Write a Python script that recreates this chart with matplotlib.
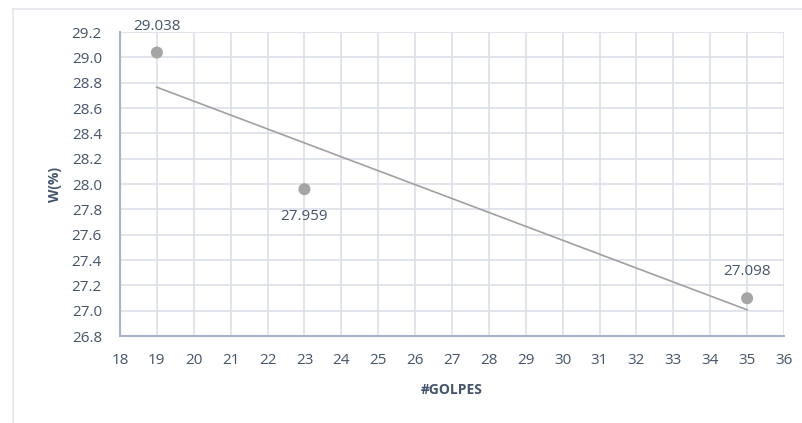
import matplotlib
matplotlib.use("Agg")
import matplotlib.pyplot as plt
import numpy as np

golpes = [19, 23, 35]
humedad = [29.038, 27.959, 27.098]
labels = ["29.038", "27.959", "27.098"]
label_offsets = [(0, 19), (0, -20), (0, 19)]

plt.rcParams['font.family'] = ['Open Sans', 'DejaVu Sans']
txt = '#44546A'
fig = plt.figure(figsize=(8.03, 4.23), dpi=100)
ax = fig.add_axes([120/803, 1-336/423, (784-120)/803, (336-32)/423])

ax.set_xlim(18, 36)
ax.set_ylim(26.8, 29.2)
ax.set_xticks(np.arange(18, 37, 1))
ax.set_yticks(np.arange(26.8, 29.21, 0.2))
ax.set_yticklabels([f"{v:.1f}" for v in np.arange(26.8, 29.21, 0.2)])
ax.grid(True, color='#DCE0E8', linewidth=1.2)
ax.set_axisbelow(True)
for s in ['top', 'right']:
    ax.spines[s].set_visible(False)
for s in ['left', 'bottom']:
    ax.spines[s].set_color('#A9B3C7')
    ax.spines[s].set_linewidth(1.5)
ax.tick_params(length=0, colors=txt, labelsize=11)
ax.tick_params(axis='y', pad=13)
ax.tick_params(axis='x', pad=12)

coef = np.polyfit(golpes, humedad, 1)
xs = np.array([min(golpes), max(golpes)])
ax.plot(xs, np.polyval(coef, xs), color='#A0A0A0', linewidth=1.2, zorder=2)
ax.scatter(golpes, humedad, s=75, color='#A5A5A5', zorder=3, edgecolors='none')
for x, y, l, off in zip(golpes, humedad, labels, label_offsets):
    ax.annotate(l, (x, y), xytext=off, textcoords='offset points', ha='center', va='center',
                color=txt, fontsize=11)

ax.set_xlabel('#GOLPES', fontweight='bold', color=txt, fontsize=10, labelpad=11)
ax.set_ylabel('W(%)', fontweight='bold', color=txt, fontsize=10, labelpad=7)

# chart frame lines
fig.add_artist(plt.Line2D([13/803, 13/803], [0, 1-9/423], color='#E3E6EC', linewidth=1.2))
fig.add_artist(plt.Line2D([13/803, 1], [1-9/423, 1-9/423], color='#E3E6EC', linewidth=1.2))

fig.savefig('out.png', dpi=100)
